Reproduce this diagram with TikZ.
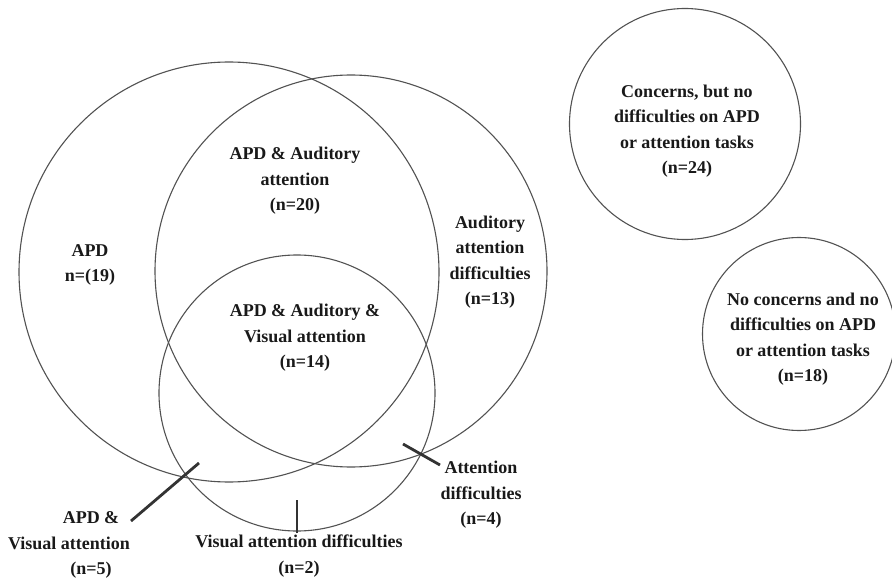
\documentclass[tikz,border=0pt]{standalone}
\usepackage{fontspec}
\setmainfont{Liberation Serif}
\begin{document}
\begin{tikzpicture}[x=1pt,y=-1pt,
  ring/.style={circle,draw=black!68,line width=1.1pt,inner sep=0pt},
  lbl/.style={align=center,font=\fontsize{18}{25.5}\selectfont\bfseries,text=black!90,inner sep=0pt},
  leader/.style={draw=black!80,line width=2.8pt}]
\useasboundingbox (0,0) rectangle (892,580);
% circles
\node[ring,minimum size=420pt] (apd) at (229,272) {};
\node[ring,minimum size=392pt] (aud) at (351,271) {};
\node[ring,minimum size=276pt] (vis) at (297,393) {};
\node[ring,minimum size=231pt] (conc) at (685,124) {};
\node[ring,minimum size=193pt] (nocon) at (799,334) {};
% labels
\node[lbl] (lapd) at (90,265) {APD\\n=(19)};
\node[lbl] (lapdaud) at (295,181) {APD \& Auditory\\attention\\(n=20)};
\node[lbl] (lall) at (305,338) {APD \& Auditory \&\\Visual attention\\(n=14)};
\node[lbl] (laud) at (490,262) {Auditory\\attention\\difficulties\\(n=13)};
\node[lbl] (lconc) at (687,131) {Concerns, but no\\difficulties on APD\\or attention tasks\\(n=24)};
\node[lbl] (lnocon) at (803,339) {No concerns and no\\difficulties on APD\\or attention tasks\\(n=18)};
\node[lbl] (latt) at (481,495) {Attention\\difficulties\\(n=4)};
\node[lbl] (lvis) at (299,556) {Visual attention difficulties\\(n=2)};
\node[lbl] (lapdvis) at (69,545) {\hspace*{44pt}APD \&\\Visual attention\\\hspace*{44pt}(n=5)};
% leader lines
\coordinate (a1) at (131,521);
\coordinate (a2) at (199,463);
\coordinate (v1) at (297,533);
\coordinate (v2) at (297,500);
\coordinate (t1) at (440,465);
\coordinate (t2) at (403,444);
\draw[leader] (a1) -- (a2);
\draw[leader] (v1) -- (v2);
\draw[leader] (t1) -- (t2);
\end{tikzpicture}
\end{document}
